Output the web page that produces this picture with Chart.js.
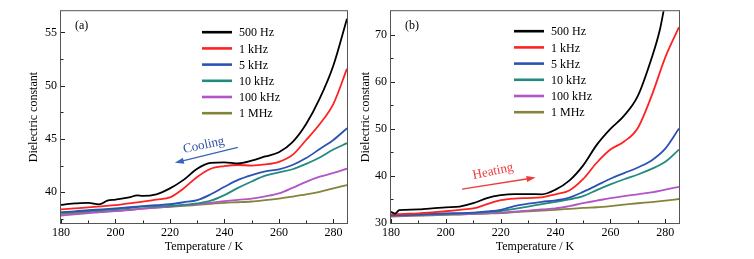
<!DOCTYPE html>
<html>
<head>
<meta charset="utf-8">
<script src="https://cdn.jsdelivr.net/npm/chart.js@4.4.1/dist/chart.umd.min.js"></script>
<style>
  body { margin: 0; background: #fff; }
  #wrap { position: relative; width: 754px; height: 259px; }
  canvas { position: absolute; top: 0; }
  #chartA { left: 0; }
  #chartB { left: 355px; }
</style>
</head>
<body>
<div id="wrap">
  <canvas id="chartA" width="355" height="259"></canvas>
  <canvas id="chartB" width="399" height="259"></canvas>
</div>
<script>
// shared
const labels = ["500 Hz", "1 kHz", "5 kHz", "10 kHz", "100 kHz", "1 MHz"];
const colors = ["#000000", "#ff2222", "#2c52b4", "#238a7e", "#b156c6", "#84843a"];
const xTicks = [180, 200, 220, 240, 260, 280];
const temps = [180, 185, 190, 195, 200, 205, 210, 215, 220, 225, 230, 235,
               240, 245, 250, 255, 260, 265, 270, 275, 280, 285];

// (a) cooling
const yTicksA = [40, 45, 50, 55];
const tempsBlackA = [180, 183, 186, 190, 194, 197, 200, 205, 208, 210, 215, 220, 225,
                     230, 235, 240, 245, 250, 255, 260, 265, 270, 275, 280, 285];
const a500Hz = [38.8, 38.9, 38.95, 39.0, 38.85, 39.2, 39.3, 39.5, 39.7, 39.65, 39.8, 40.35, 41.15,
                42.2, 42.75, 42.8, 42.7, 42.95, 43.35, 43.75, 44.7, 46.4, 48.8, 51.9, 56.3];
const a1kHz = [38.38, 38.47, 38.56, 38.67, 38.78, 38.95, 39.1, 39.3, 39.5, 40.35, 41.43, 42.2,
               42.45, 42.55, 42.5, 42.6, 42.85, 43.5, 44.9, 46.4, 48.3, 51.6];
const a5kHz = [38.13, 38.2, 38.3, 38.38, 38.47, 38.58, 38.69, 38.78, 38.87, 39.05, 39.25, 39.8,
               40.5, 41.15, 41.6, 41.95, 42.15, 42.55, 43.2, 44.05, 44.9, 46.0];
const a10kHz = [38.06, 38.14, 38.22, 38.3, 38.38, 38.5, 38.63, 38.67, 38.7, 38.8, 38.94, 39.2,
                39.72, 40.4, 41.0, 41.55, 41.85, 42.15, 42.65, 43.25, 44.0, 44.6];
const a100kHz = [37.8, 37.92, 38.02, 38.12, 38.22, 38.3, 38.45, 38.55, 38.65, 38.75, 38.88, 39.0,
                 39.15, 39.28, 39.4, 39.6, 39.88, 40.4, 40.97, 41.45, 41.8, 42.2];
const a1MHz = [37.94, 38.02, 38.1, 38.18, 38.25, 38.33, 38.45, 38.55, 38.62, 38.7, 38.8, 38.9,
               39.0, 39.05, 39.12, 39.25, 39.4, 39.58, 39.78, 40.03, 40.35, 40.66];

// (b) heating
const yTicksB = [30, 40, 50, 60, 70];
const tempsBlackB = [180, 181.5, 183, 185, 190, 195, 200, 205, 210, 215, 220, 225, 230, 235,
                     240, 245, 250, 255, 260, 265, 270, 275, 278, 280];
const b500Hz = [32.4, 32.0, 32.75, 32.8, 32.9, 33.1, 33.33, 33.5, 34.2, 35.3, 35.9, 36.15, 36.15, 36.1,
                37.1, 39.0, 42.2, 46.6, 50.0, 52.8, 57.0, 65.0, 71.0, 77.0];
const b1kHz = [31.85, 31.95, 32.05, 32.25, 32.5, 32.8, 33.1, 34.0, 34.85, 35.2, 35.3, 35.45,
               36.1, 36.9, 39.3, 42.8, 45.6, 47.3, 50.2, 57.0, 65.2, 71.6];
const b5kHz = [31.6, 31.7, 31.8, 31.95, 32.05, 32.1, 32.2, 32.45, 32.8, 33.6, 34.1, 34.5,
               34.8, 35.4, 36.6, 38.0, 39.4, 40.6, 41.8, 43.3, 45.8, 50.1];
const b10kHz = [31.6, 31.65, 31.7, 31.8, 31.9, 32.0, 32.15, 32.3, 32.55, 33.0, 33.5, 34.0,
                34.5, 35.0, 35.7, 37.0, 38.2, 39.3, 40.3, 41.5, 43.0, 45.6];
const b100kHz = [31.5, 31.55, 31.6, 31.7, 31.8, 31.85, 31.95, 32.05, 32.2, 32.4, 32.65, 32.9,
                 33.1, 33.6, 34.2, 34.75, 35.3, 35.7, 36.1, 36.5, 37.1, 37.7];
const b1MHz = [31.35, 31.45, 31.55, 31.65, 31.75, 31.8, 31.9, 32.0, 32.1, 32.3, 32.5, 32.65,
               32.8, 33.0, 33.2, 33.35, 33.6, 33.9, 34.2, 34.45, 34.75, 35.1];

// annotations, in data units (K, value)
const coolingArrow = [[244.9, 44.2], [221.8, 42.75]];
const coolingText = { x: 232.4, y: 44.4, text: "Cooling" };
const heatingArrow = [[205.9, 37.2], [232.7, 39.65]];
const heatingText = { x: 217.2, y: 40.95, text: "Heating" };

const FONT = "Liberation Serif, Times New Roman, serif";

function pts(xs, ys) {
  return ys.map((v, i) => ({ x: xs[i], y: v }));
}

function makeDatasets(xsBlack, seriesBlack, rest) {
  const all = [pts(xsBlack, seriesBlack)].concat(rest.map(s => pts(temps, s)));
  return all.map((d, i) => ({
    label: labels[i],
    data: d,
    borderColor: colors[i],
    borderWidth: 1.8,
    pointRadius: 0,
    fill: false,
    cubicInterpolationMode: "monotone",
  }));
}

function arrow(ctx, x1, y1, x2, y2, color) {
  const ang = Math.atan2(y2 - y1, x2 - x1);
  ctx.strokeStyle = color;
  ctx.fillStyle = color;
  ctx.lineWidth = 1.3;
  ctx.beginPath();
  ctx.moveTo(x1, y1);
  ctx.lineTo(x2 - 6 * Math.cos(ang), y2 - 6 * Math.sin(ang));
  ctx.stroke();
  ctx.beginPath();
  ctx.moveTo(x2, y2);
  ctx.lineTo(x2 - 9 * Math.cos(ang) + 3 * Math.sin(ang), y2 - 9 * Math.sin(ang) - 3 * Math.cos(ang));
  ctx.lineTo(x2 - 9 * Math.cos(ang) - 3 * Math.sin(ang), y2 - 9 * Math.sin(ang) + 3 * Math.cos(ang));
  ctx.closePath();
  ctx.fill();
}

// frame, inward ticks, legend, panel letter, arrows
const panelDecor = {
  id: "panelDecor",
  afterDatasetsDraw(chart, args, opts) {
    const { ctx, chartArea: a } = chart;
    const xs = chart.scales.x, ys = chart.scales.y;
    ctx.save();

    ctx.strokeStyle = "#555";
    ctx.lineWidth = 1;
    ctx.strokeRect(a.left - 0.5, a.top - 0.5, a.right - a.left + 1, a.bottom - a.top + 1);

    ctx.strokeStyle = "#222";
    ctx.beginPath();
    const xt = opts.xTicks;
    for (let i = 0; i < xt.length; i++) {
      const px = Math.round(xs.getPixelForValue(xt[i])) + 0.5;
      ctx.moveTo(px, a.bottom); ctx.lineTo(px, a.bottom - 4);
      const mid = xt[i] + (xt[1] - xt[0]) / 2;
      if (mid < xs.max) {
        const pm = Math.round(xs.getPixelForValue(mid)) + 0.5;
        ctx.moveTo(pm, a.bottom); ctx.lineTo(pm, a.bottom - 2.5);
      }
    }
    const yt = opts.yTicks, ystep = yt[1] - yt[0];
    for (let v = yt[0] - ystep / 2; v < ys.max; v += ystep / 2) {
      if (v <= ys.min) continue;
      const py = Math.round(ys.getPixelForValue(v)) + 0.5;
      const major = yt.includes(v);
      ctx.moveTo(a.left, py); ctx.lineTo(a.left + (major ? 4 : 2.5), py);
    }
    ctx.stroke();

    // legend
    ctx.font = "12px " + FONT;
    ctx.textBaseline = "middle";
    ctx.textAlign = "left";
    chart.data.datasets.forEach((ds, i) => {
      const yy = a.top + opts.legendTop + i * 16.2;
      ctx.strokeStyle = ds.borderColor;
      ctx.lineWidth = 2.6;
      ctx.beginPath();
      ctx.moveTo(a.left + opts.legendX, yy);
      ctx.lineTo(a.left + opts.legendX + 30, yy);
      ctx.stroke();
      ctx.fillStyle = "#000";
      ctx.fillText(ds.label, a.left + opts.legendX + 37, yy + 1);
    });

    ctx.fillText(opts.letter, a.left + 14, a.top + 15);

    // arrow + rotated label
    const ar = opts.arrow;
    arrow(ctx, xs.getPixelForValue(ar[0][0]), ys.getPixelForValue(ar[0][1]),
          xs.getPixelForValue(ar[1][0]), ys.getPixelForValue(ar[1][1]), opts.arrowColor);
    ctx.save();
    ctx.translate(xs.getPixelForValue(opts.note.x), ys.getPixelForValue(opts.note.y));
    ctx.rotate(-12 * Math.PI / 180);
    ctx.fillStyle = opts.noteColor;
    ctx.textAlign = "center";
    ctx.font = "13px " + FONT;
    ctx.fillText(opts.note.text, 0, 0);
    ctx.restore();

    ctx.restore();
  },
};

function makeChart(id, datasets, cfg) {
  return new Chart(document.getElementById(id), {
    type: "line",
    data: { datasets },
    plugins: [panelDecor],
    options: {
      responsive: false,
      animation: false,
      devicePixelRatio: 1,
      layout: { padding: cfg.padding },
      plugins: {
        legend: { display: false },
        tooltip: { enabled: false },
        panelDecor: cfg.decor,
      },
      scales: {
        x: {
          type: "linear",
          min: 180,
          max: 285,
          afterBuildTicks: (s) => { s.ticks = xTicks.map(v => ({ value: v })); },
          afterFit: (s) => { s.height = 36; },
          grid: { display: false, drawTicks: false },
          border: { display: false },
          ticks: { color: "#000", padding: 3, font: { family: FONT, size: 12 }, maxRotation: 0 },
          title: { display: true, text: "Temperature / K", color: "#000",
                   padding: { top: 0, bottom: 5 }, font: { family: FONT, size: 12 } },
        },
        y: {
          min: cfg.ymin,
          max: cfg.ymax,
          afterBuildTicks: (s) => { s.ticks = cfg.yTicks.map(v => ({ value: v })); },
          afterFit: (s) => { s.width = cfg.yWidth; },
          grid: { display: false, drawTicks: false },
          border: { display: false },
          ticks: { color: "#000", padding: 4, font: { family: FONT, size: 12 } },
          title: { display: true, text: "Dielectric constant", color: "#000",
                   padding: { top: 4, bottom: 4 }, font: { family: FONT, size: 12 } },
        },
      },
    },
  });
}

makeChart("chartA", makeDatasets(tempsBlackA, a500Hz, [a1kHz, a5kHz, a10kHz, a100kHz, a1MHz]), {
  padding: { left: 23, right: 8, top: 11, bottom: 0 },
  ymin: 37.1, ymax: 57, yTicks: yTicksA, yWidth: 38,
  decor: { xTicks, yTicks: yTicksA, legendX: 141, legendTop: 21, letter: "(a)",
           arrow: coolingArrow, arrowColor: "#3a62c0", note: coolingText, noteColor: "#2f52a8" },
});

makeChart("chartB", makeDatasets(tempsBlackB, b500Hz, [b1kHz, b5kHz, b10kHz, b100kHz, b1MHz]), {
  padding: { left: 0, right: 75, top: 11, bottom: 0 },
  ymin: 30, ymax: 75, yTicks: yTicksB, yWidth: 36,
  decor: { xTicks, yTicks: yTicksB, legendX: 123, legendTop: 20, letter: "(b)",
           arrow: heatingArrow, arrowColor: "#f03a3a", note: heatingText, noteColor: "#f03a3a" },
});
</script>
</body>
</html>
